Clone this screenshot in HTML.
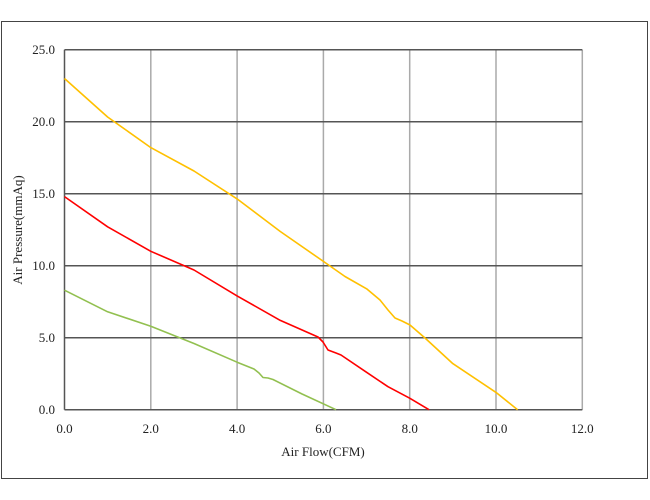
<!DOCTYPE html>
<html><head><style>
body{margin:0;background:#fff;width:650px;height:500px;overflow:hidden}
svg{display:block}
text{font-family:"Liberation Serif",serif;font-size:13px;fill:#222}
</style></head><body>
<svg width="650" height="500" viewBox="0 0 650 500">
<rect x="1.5" y="21.5" width="646" height="457" fill="#fff" stroke="#444" stroke-width="1"/>
<g stroke="#aaa" stroke-width="1.5">
<line x1="150.8" y1="49.7" x2="150.8" y2="409.7"/>
<line x1="237.1" y1="49.7" x2="237.1" y2="409.7"/>
<line x1="323.4" y1="49.7" x2="323.4" y2="409.7"/>
<line x1="409.7" y1="49.7" x2="409.7" y2="409.7"/>
<line x1="496" y1="49.7" x2="496" y2="409.7"/>
<line x1="582.3" y1="49.7" x2="582.3" y2="409.7"/>
</g>
<g stroke="#555" stroke-width="1.5">
<line x1="64.5" y1="49.7" x2="582.3" y2="49.7"/>
<line x1="64.5" y1="121.7" x2="582.3" y2="121.7"/>
<line x1="64.5" y1="193.7" x2="582.3" y2="193.7"/>
<line x1="64.5" y1="265.7" x2="582.3" y2="265.7"/>
<line x1="64.5" y1="337.7" x2="582.3" y2="337.7"/>
<line x1="64.5" y1="409.7" x2="582.3" y2="409.7"/>
<line x1="64.5" y1="49.7" x2="64.5" y2="409.7"/>
</g>
<g fill="none" stroke-width="1.6" stroke-linejoin="round">
<polyline stroke="#ffc000" points="64.5,78.5 107.6,117 150.8,147.6 194,171 237.1,198.9 280.3,231.5 323.4,261.4 345,276.5 366.6,288.8 380,300 388,310 395,318 402,321 410,325 425,338 452.8,363.6 496,392.4 517.6,409.7"/>
<polyline stroke="#ff0000" points="64.5,196.6 107.6,226.8 150.8,251.3 194,270 237.1,295.9 280.3,320.4 318,337 323,342 328,350 336,353 341,355 366.6,372.3 388,386.7 409.7,398.2 429,409.7"/>
<polyline stroke="#92c050" points="64.5,290.2 107.6,311.8 150.8,326.2 194,343.5 237.1,362.2 254,369 259,373 263,377.5 268,378 273,379.5 301.8,393.9 336,409.7"/>
</g>
<g text-anchor="end">
<text x="55" y="54">25.0</text>
<text x="55" y="126">20.0</text>
<text x="55" y="198">15.0</text>
<text x="55" y="270">10.0</text>
<text x="55" y="342">5.0</text>
<text x="55" y="414">0.0</text>
</g>
<g text-anchor="middle">
<text x="64.5" y="433">0.0</text>
<text x="150.8" y="433">2.0</text>
<text x="237.1" y="433">4.0</text>
<text x="323.4" y="433">6.0</text>
<text x="409.7" y="433">8.0</text>
<text x="496" y="433">10.0</text>
<text x="582.3" y="433">12.0</text>
<text x="323" y="456">Air Flow(CFM)</text>
<text transform="translate(22,230) rotate(-90)">Air Pressure(mmAq)</text>
</g>
</svg>
</body></html>
